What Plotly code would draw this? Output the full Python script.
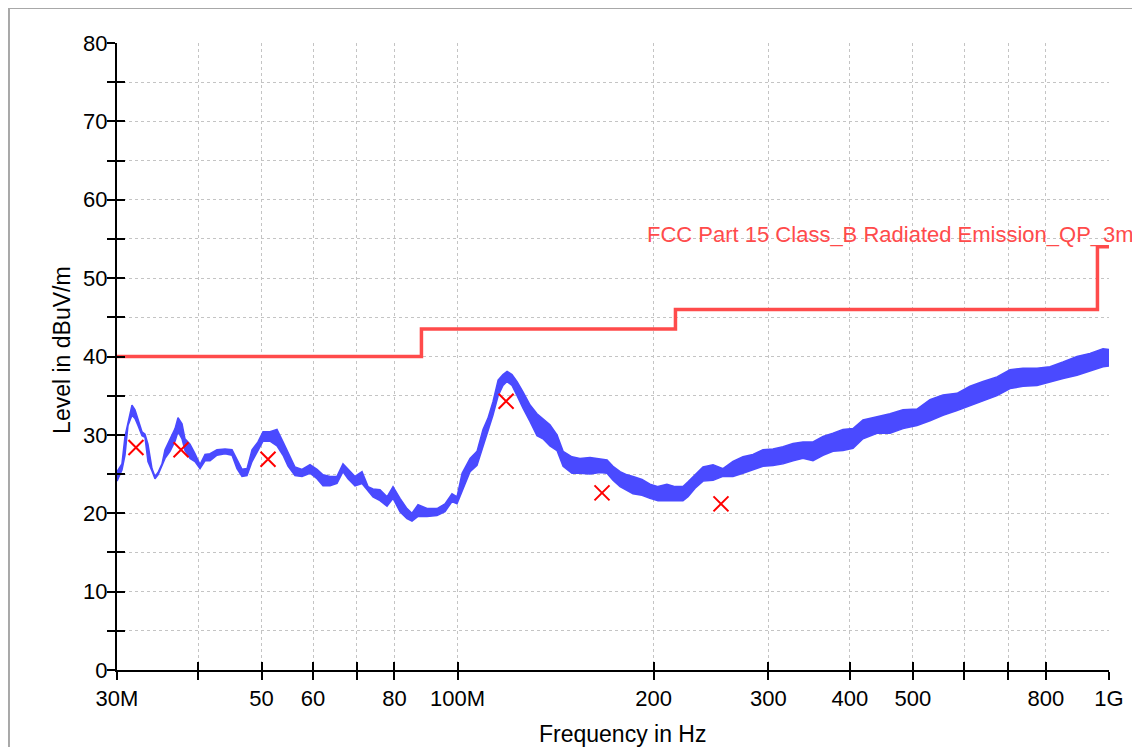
import plotly.graph_objects as go

# Measured trace (MHz, upper / lower edge of the noisy band in dBuV/m)
freq_mhz = [30.00, 30.53, 30.86, 31.19, 31.63, 31.97, 32.31, 32.77, 33.12, 33.47,
            33.95, 34.31, 34.68, 35.17, 35.55, 36.18, 36.83, 37.22, 37.75, 38.15,
            38.83, 39.52, 40.23, 40.95, 41.68, 42.72, 43.95, 45.05, 45.85, 46.67,
            47.50, 48.35, 49.38, 50.27, 51.52, 52.81, 53.95, 54.91, 56.28, 57.69,
            59.35, 60.84, 62.14, 63.70, 65.29, 66.69, 67.88, 69.58, 71.33, 72.86,
            74.15, 76.01, 77.92, 79.59, 81.58, 83.62, 85.11, 86.94, 89.75, 92.98,
            95.64, 98.04, 99.79, 101.6, 104.5, 107.1, 109.4, 111.3, 113.3, 115.4,
            117.4, 119.1, 121.2, 123.4, 126.0, 129.2, 132.4, 135.2, 138.6, 142.1,
            145.2, 149.8, 154.1, 159.7, 165.4, 169.6, 173.2, 177.6, 182.0, 185.9,
            191.9, 197.4, 203.1, 209.6, 215.7, 221.8, 225.8, 231.5, 238.1, 246.7,
            255.5, 264.7, 274.2, 284.1, 294.3, 304.9, 315.9, 327.3, 339.0, 351.2,
            363.9, 377.0, 390.5, 404.6, 419.1, 440.4, 461.1, 482.8, 507.3, 531.1,
            556.1, 584.3, 611.8, 640.6, 673.1, 704.7, 737.9, 775.3, 811.8, 850.0,
            893.1, 935.1, 979.1, 1000.0]
level_upper = [25.3, 26.3, 29.8, 31.7, 33.8, 33.2, 32.1, 30.4, 30.1, 28.8,
               25.7, 24.7, 25.2, 26.3, 28.1, 29.5, 30.8, 32.2, 31.4, 29.5,
               28.8, 27.6, 26.2, 27.5, 27.6, 28.1, 28.2, 28.1, 26.8, 25.6,
               25.7, 28.1, 29.1, 30.4, 30.4, 30.7, 29.1, 27.8, 25.9, 25.6,
               26.2, 25.6, 24.9, 24.7, 24.7, 26.3, 25.6, 24.7, 25.3, 23.4,
               23.1, 23.0, 22.1, 23.4, 21.9, 20.6, 20.0, 21.1, 20.6, 20.6,
               21.2, 22.5, 22.1, 25.1, 27.0, 27.9, 30.7, 32.1, 34.2, 37.0,
               37.7, 38.1, 37.7, 36.8, 35.5, 33.8, 32.7, 32.1, 31.3, 30.0,
               27.9, 27.2, 27.0, 27.1, 26.9, 26.8, 26.0, 25.3, 24.9, 24.7,
               24.3, 23.7, 23.4, 23.7, 23.4, 23.4, 24.0, 24.9, 25.9, 26.2,
               25.7, 26.6, 27.2, 27.5, 28.1, 28.2, 28.5, 28.9, 29.1, 29.1,
               29.8, 30.2, 30.7, 30.8, 31.9, 32.3, 32.7, 33.2, 33.3, 34.5,
               35.1, 35.3, 36.2, 36.8, 37.4, 38.3, 38.5, 38.5, 38.7, 39.3,
               40.0, 40.4, 41.0, 40.9]
level_lower = [24.1, 25.5, 27.4, 31.2, 32.5, 32.1, 31.2, 29.9, 29.7, 26.6,
               25.4, 24.4, 24.9, 26.0, 27.0, 27.9, 29.2, 30.4, 29.5, 28.0,
               27.0, 26.6, 25.7, 26.7, 26.7, 27.4, 27.6, 27.4, 25.7, 24.7,
               24.8, 26.6, 28.0, 29.2, 29.2, 28.6, 27.4, 26.0, 24.8, 24.7,
               25.1, 24.4, 23.5, 23.5, 23.8, 25.3, 24.4, 23.5, 23.8, 22.9,
               22.1, 21.6, 20.9, 21.9, 20.2, 19.3, 19.0, 19.6, 19.6, 19.7,
               20.2, 21.5, 21.2, 22.8, 25.3, 26.1, 28.6, 30.6, 32.5, 35.0,
               36.3, 36.8, 36.3, 35.0, 33.4, 31.7, 29.9, 29.5, 28.6, 28.0,
               26.0, 25.1, 25.1, 25.0, 25.2, 25.1, 24.2, 23.4, 22.9, 22.5,
               22.3, 21.9, 21.6, 21.6, 21.6, 21.6, 22.1, 23.2, 24.1, 24.2,
               24.7, 24.7, 25.1, 25.5, 26.0, 26.1, 26.3, 26.7, 27.0, 26.7,
               27.4, 27.9, 28.0, 28.3, 29.5, 30.2, 30.2, 30.8, 31.2, 31.8,
               32.5, 33.1, 33.7, 34.4, 35.0, 35.9, 36.2, 36.3, 36.8, 37.2,
               37.6, 38.1, 38.7, 38.8]

# FCC Part 15 class B QP limit (3 m)
limit_freq = [30, 88, 216, 960, 1000]
limit_level = [40, 43.5, 46, 54, 54]
limit_name = "FCC Part 15 Class_B Radiated Emission_QP_3m"

# Final QP measurement points
qp_freq = [32.08, 37.62, 51.16, 118.7, 166.6, 253.7]
qp_level = [28.4, 28.1, 26.9, 34.3, 22.6, 21.2]

# Axis ticks
x_tickvals = [30, 40, 50, 60, 70, 80, 100, 200, 300, 400, 500, 600, 700, 800, 1000]
x_ticktext = ["30M", "", "50", "60", "", "80", "100M", "200", "300", "400", "500",
              "", "", "800", "1G"]
y_tickvals = list(range(0, 85, 5))
y_ticktext = [str(v) if v % 10 == 0 else "" for v in y_tickvals]

BLUE = "#4a4aff"
FONT = "Liberation Sans, Arial, sans-serif"

fig = go.Figure()

fig.add_trace(go.Scatter(x=freq_mhz, y=level_lower, mode="lines",
                         line=dict(color=BLUE, width=1.5)))
fig.add_trace(go.Scatter(x=freq_mhz, y=level_upper, mode="lines",
                         line=dict(color=BLUE, width=1.5),
                         fill="tonexty", fillcolor=BLUE))

fig.add_trace(go.Scatter(x=limit_freq, y=limit_level, mode="lines",
                         line=dict(color="#ff4b4b", width=3.5, shape="hv")))

fig.add_trace(go.Scatter(x=qp_freq, y=qp_level, mode="markers",
                         marker=dict(symbol="x-thin", size=15,
                                     line=dict(color="#ff0000", width=2))))

# annotation of limit line
fig.add_annotation(x=3, y=54, xref="x", yref="y", text=limit_name,
                   showarrow=False, xanchor="right", yanchor="bottom",
                   xshift=27, yshift=-2,
                   font=dict(color="#ff4b4b", size=22, family=FONT))

# axis titles placed by hand (axis title standoff is clipped by the margins)
fig.add_annotation(x=0.51, y=-0.102, xref="paper", yref="paper",
                   text="Frequency in Hz", showarrow=False,
                   xanchor="center", yanchor="middle",
                   font=dict(size=23, family=FONT, color="black"))
fig.add_annotation(x=-0.0554, y=0.509, xref="paper", yref="paper",
                   text="Level in dBuV/m", showarrow=False, textangle=-90,
                   xanchor="center", yanchor="middle",
                   font=dict(size=23, family=FONT, color="black"))

# invisible trace to get the inward half of the crossing ticks
fig.add_trace(go.Scatter(x=[30], y=[0], xaxis="x2", yaxis="y2",
                         mode="markers", marker=dict(opacity=0),
                         hoverinfo="skip"))

grid = dict(showgrid=True, gridcolor="#c4c4c4", gridwidth=1, griddash="dot")

# the page body adds an 8 px offset, so the figure is 8 px smaller
fig.update_layout(
    width=1132, height=739,
    margin=dict(l=109, r=31, t=35, b=77, autoexpand=False),
    paper_bgcolor="white", plot_bgcolor="white",
    showlegend=False,
    font=dict(family=FONT, size=22, color="black"),
    xaxis=dict(type="log", range=[1.4771213, 3], tickmode="array",
               tickvals=x_tickvals, ticktext=x_ticktext,
               ticks="outside", ticklen=8, tickwidth=2, tickcolor="black",
               automargin=False,
               showline=True, linecolor="black", linewidth=2,
               zeroline=False, **grid),
    yaxis=dict(range=[0, 80], tickmode="array",
               tickvals=y_tickvals, ticktext=y_ticktext,
               ticks="outside", ticklen=8, tickwidth=2, tickcolor="black",
               ticklabelstandoff=-5, automargin=False,
               showline=True, linecolor="black", linewidth=2,
               zeroline=False, **grid),
    xaxis2=dict(type="log", range=[1.4771213, 3], overlaying="x",
                tickmode="array", tickvals=x_tickvals, showticklabels=False,
                ticks="inside", ticklen=8, tickwidth=2, tickcolor="black",
                showgrid=False, zeroline=False, side="bottom"),
    yaxis2=dict(range=[0, 80], overlaying="y", tickmode="array",
                tickvals=y_tickvals, showticklabels=False,
                ticks="inside", ticklen=8, tickwidth=2, tickcolor="black",
                showgrid=False, zeroline=False, side="left"),
)

# outer frame of the picture
fig.add_shape(type="rect", xref="paper", yref="paper",
              x0=-0.1089, x1=1.0292, y0=-0.15, y1=1.0558,
              line=dict(color="#a8a8a8", width=2), layer="below")

fig.write_html("out.html")
